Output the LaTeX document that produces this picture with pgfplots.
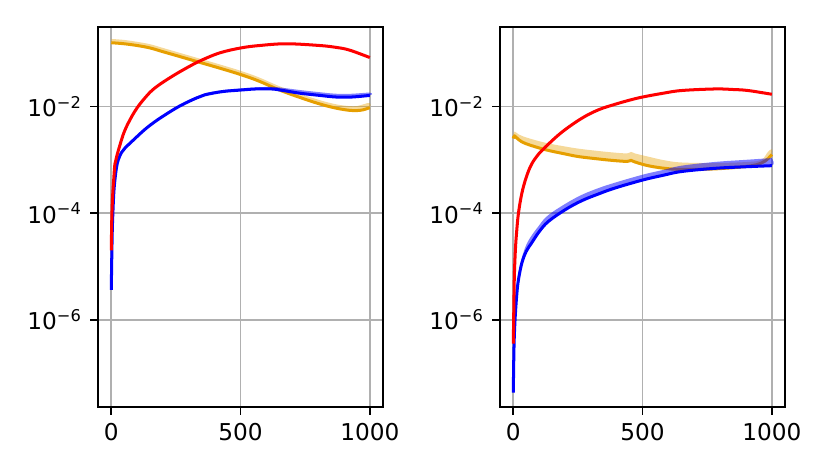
\documentclass[border=0pt]{standalone}
\usepackage{fontspec}
\setmainfont{DejaVu Sans}
\usepackage{pgfplots}
\pgfplotsset{compat=1.18}
\definecolor{morange}{RGB}{230,159,0}
\definecolor{gridgray}{RGB}{176,176,176}
\tikzset{ln/.style={line width=1.3bp, line join=round, smooth, tension=0.6},
  bd/.style={draw=none, smooth, tension=0.6}}
\begin{document}
\begin{tikzpicture}
\useasboundingbox (-42.4bp,-27.7bp) rectangle (315.4bp,175.3bp);
\begin{axis}[at={(0bp,0bp)}, anchor=south west,
  scale only axis, width=122.6bp, height=163.8bp,
  ymode=log, xmin=-50, xmax=1050, ymin=2.32e-8, ymax=0.316,
  xtick={0,500,1000}, ytick={1e-6,1e-4,1e-2},
  yticklabels={10\textsuperscript{−6},10\textsuperscript{−4},10\textsuperscript{−2}},
  yminorticks=false, xminorticks=false,
  tick align=outside, tick pos=left,
  major tick length=3.5bp,
  major tick style={black, line width=0.8bp},
  axis line style={line width=0.8bp},
  xmajorgrids, ymajorgrids, major grid style={gridgray, line width=0.8bp},
  /pgf/number format/assume math mode=true,
  /pgf/number format/1000 sep={},
  tick label style={font=\fontsize{10bp}{12bp}\selectfont}]
\addplot[bd, fill=morange, fill opacity=0.4] coordinates {
(0,1.86e-1)(50,1.78e-1)(100,1.64e-1)(150,1.48e-1)(200,1.26e-1)(250,1.07e-1)(342,7.94e-2)(420,6.17e-2)(501,4.68e-2)(570,3.55e-2)(651,2.40e-2)(730,1.74e-2)(806,1.32e-2)(870,1.10e-2)(920,1.02e-2)(950,1.02e-2)(975,1.10e-2)(1000,1.17e-2)
(1000,9.55e-3)(975,8.71e-3)(950,8.41e-3)(920,8.51e-3)(870,9.33e-3)(806,1.12e-2)(730,1.48e-2)(651,2.04e-2)(570,3.02e-2)(501,3.98e-2)(420,5.25e-2)(342,6.76e-2)(250,9.12e-2)(200,1.07e-1)(150,1.26e-1)(100,1.40e-1)(50,1.51e-1)(0,1.58e-1)
};
\addplot[morange, ln] coordinates {
(0,1.58e-1)(50,1.51e-1)(100,1.40e-1)(150,1.26e-1)(200,1.07e-1)(250,9.12e-2)(342,6.76e-2)(420,5.25e-2)(501,3.98e-2)(570,3.02e-2)(651,2.04e-2)(730,1.48e-2)(806,1.12e-2)(870,9.33e-3)(920,8.51e-3)(950,8.41e-3)(975,8.71e-3)(1000,9.55e-3)
};
\addplot[bd, fill=blue, fill opacity=0.5] coordinates {
(0,3.63e-6)(10,2.63e-4)(27,1.05e-3)(53,1.74e-3)(85,2.45e-3)(130,3.89e-3)(170,5.50e-3)(207,7.24e-3)(250,9.77e-3)(285,1.23e-2)(330,1.55e-2)(362,1.78e-2)(430,2.04e-2)(500,2.19e-2)(560,2.29e-2)(620,2.34e-2)(665,2.24e-2)(730,2.04e-2)(806,1.86e-2)(870,1.74e-2)(930,1.74e-2)(1000,1.82e-2)
(1000,1.62e-2)(930,1.51e-2)(870,1.51e-2)(806,1.62e-2)(730,1.78e-2)(665,2.00e-2)(620,2.14e-2)(560,2.14e-2)(500,2.04e-2)(430,1.91e-2)(362,1.66e-2)(330,1.45e-2)(285,1.15e-2)(250,9.33e-3)(207,6.92e-3)(170,5.25e-3)(130,3.72e-3)(85,2.34e-3)(53,1.66e-3)(27,1.00e-3)(10,2.51e-4)(0,3.63e-6)
};
\addplot[blue, ln] coordinates {
(0,3.63e-6)(2,1.58e-5)(4,5.01e-5)(7,1.26e-4)(10,2.51e-4)(14,4.17e-4)(20,7.08e-4)(27,1.00e-3)(40,1.38e-3)(53,1.66e-3)(85,2.34e-3)(130,3.72e-3)(170,5.25e-3)(207,6.92e-3)(250,9.33e-3)(285,1.15e-2)(330,1.45e-2)(362,1.66e-2)(430,1.91e-2)(500,2.04e-2)(560,2.14e-2)(620,2.14e-2)(665,2.00e-2)(730,1.78e-2)(806,1.62e-2)(870,1.51e-2)(930,1.51e-2)(1000,1.62e-2)
};
\addplot[red, ln] coordinates {
(0,2.00e-5)(2,7.94e-5)(5,2.00e-4)(9,3.98e-4)(14,8.32e-4)(20,1.10e-3)(30,1.66e-3)(53,3.63e-3)(91,8.13e-3)(130,1.45e-2)(169,2.24e-2)(233,3.63e-2)(297,5.50e-2)(349,7.41e-2)(420,1.02e-1)(501,1.26e-1)(574,1.40e-1)(677,1.51e-1)(806,1.40e-1)(870,1.29e-1)(921,1.15e-1)(1000,8.32e-2)
};
\end{axis}
\begin{axis}[at={(173.3bp,0bp)}, anchor=south west,
  scale only axis, width=122.6bp, height=163.8bp,
  ymode=log, xmin=-50, xmax=1050, ymin=2.32e-8, ymax=0.316,
  xtick={0,500,1000}, ytick={1e-6,1e-4,1e-2},
  yticklabels={10\textsuperscript{−6},10\textsuperscript{−4},10\textsuperscript{−2}},
  yminorticks=false, xminorticks=false,
  tick align=outside, tick pos=left,
  major tick length=3.5bp,
  major tick style={black, line width=0.8bp},
  axis line style={line width=0.8bp},
  xmajorgrids, ymajorgrids, major grid style={gridgray, line width=0.8bp},
  /pgf/number format/assume math mode=true,
  /pgf/number format/1000 sep={},
  tick label style={font=\fontsize{10bp}{12bp}\selectfont}]
\addplot[bd, fill=morange, fill opacity=0.4] coordinates {
(0,2.95e-3)(5,3.39e-3)(20,3.02e-3)(50,2.63e-3)(124,2.09e-3)(200,1.78e-3)(252,1.62e-3)(320,1.48e-3)(381,1.38e-3)(440,1.32e-3)(455,1.41e-3)(470,1.32e-3)(521,1.15e-3)(586,9.77e-4)(651,8.91e-4)(780,8.71e-4)(908,9.12e-4)(960,1.00e-3)(985,1.41e-3)(1000,1.58e-3)
(1000,1.26e-3)(985,1.05e-3)(960,8.71e-4)(908,7.59e-4)(780,6.76e-4)(651,6.61e-4)(586,6.92e-4)(521,7.76e-4)(470,9.12e-4)(455,9.77e-4)(440,9.33e-4)(381,9.77e-4)(320,1.05e-3)(252,1.15e-3)(200,1.29e-3)(124,1.55e-3)(50,2.00e-3)(20,2.40e-3)(5,2.82e-3)(0,2.51e-3)
};
\addplot[morange, ln] coordinates {
(0,2.51e-3)(5,2.82e-3)(20,2.40e-3)(50,2.00e-3)(124,1.55e-3)(200,1.29e-3)(252,1.15e-3)(320,1.05e-3)(381,9.77e-4)(440,9.33e-4)(455,9.77e-4)(470,9.12e-4)(521,7.76e-4)(586,6.92e-4)(651,6.61e-4)(780,6.76e-4)(908,7.59e-4)(960,8.71e-4)(985,1.05e-3)(1000,1.26e-3)
};
\addplot[bd, fill=blue, fill opacity=0.5] coordinates {
(0,4.27e-8)(8,1.58e-6)(20,7.41e-6)(50,2.51e-5)(100,5.89e-5)(135,9.12e-5)(200,1.48e-4)(264,2.19e-4)(330,2.95e-4)(393,3.72e-4)(500,5.25e-4)(580,6.46e-4)(651,7.76e-4)(780,9.12e-4)(900,1.00e-3)(990,1.07e-3)(1000,1.07e-3)
(1000,7.76e-4)(900,7.41e-4)(780,6.92e-4)(651,6.03e-4)(580,5.13e-4)(500,4.17e-4)(393,2.95e-4)(330,2.29e-4)(264,1.70e-4)(200,1.15e-4)(135,6.92e-5)(100,4.47e-5)(50,1.91e-5)(20,5.62e-6)(8,1.26e-6)(0,4.27e-8)
};
\addplot[blue, ln] coordinates {
(0,4.27e-8)(2,2.00e-7)(4,5.01e-7)(8,1.26e-6)(14,3.16e-6)(20,5.62e-6)(33,1.15e-5)(50,1.91e-5)(71,2.75e-5)(100,4.47e-5)(135,6.92e-5)(200,1.15e-4)(264,1.70e-4)(330,2.29e-4)(393,2.95e-4)(500,4.17e-4)(580,5.13e-4)(651,6.03e-4)(780,6.92e-4)(900,7.41e-4)(1000,7.76e-4)
};
\addplot[red, ln] coordinates {
(0,3.55e-7)(2,1.58e-6)(4,6.31e-6)(8,2.00e-5)(13,4.47e-5)(20,1.00e-4)(33,2.34e-4)(50,4.68e-4)(71,8.32e-4)(100,1.32e-3)(124,1.74e-3)(188,3.31e-3)(265,6.03e-3)(330,8.71e-3)(393,1.10e-2)(450,1.32e-2)(500,1.51e-2)(580,1.78e-2)(651,2.00e-2)(780,2.14e-2)(850,2.09e-2)(908,2.00e-2)(1000,1.70e-2)
};
\end{axis}
\end{tikzpicture}
\end{document}
